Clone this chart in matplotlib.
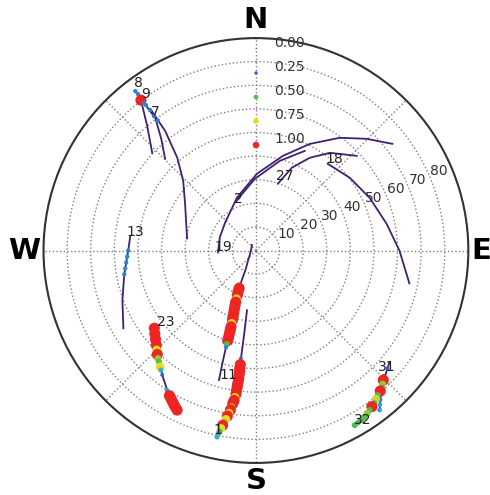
import matplotlib
matplotlib.use('Agg')
import matplotlib.pyplot as plt
import numpy as np
from matplotlib.colors import LinearSegmentedColormap

# satellite tracks: azimuth (deg, from north, clockwise) and zenith distance
prn08_az = [322.9, 322.6, 318.9, 313.3]
prn08_r = [84.7, 80.2, 70.1, 60.4]
prn09_az = [322.8, 322.8, 319.7, 315.3]
prn09_r = [81.7, 70.5, 62.0, 54.7]
prn07_az = [323.3, 322.8, 319.7, 313.8, 303.5, 293.5, 279.9]
prn07_r = [74.9, 63.6, 51.5, 42.7, 36.0, 32.3, 29.6]
prn13_az = [276.3, 270.0, 260.1, 249.5, 239.6]
prn13_r = [53.6, 54.1, 56.6, 60.4, 65.1]
prn23_az = [232.6, 225.9, 220.9, 216.0, 211.6, 209.1, 206.3]
prn23_r = [54.2, 58.9, 62.6, 66.8, 70.9, 73.0, 75.4]
prn11_az = [195.9, 196.5, 197.2, 197.6, 199.3, 204.6, 209.1, 217.3, 239.7, 275.7, 324.0]
prn11_r = [57.1, 50.7, 42.9, 37.7, 26.9, 16.3, 8.7, 5.6, 2.9, 2.1, 2.9]
prn01_az = [191.8, 190.4, 189.1, 187.9, 187.7, 187.9, 188.0, 188.5]
prn01_r = [80.7, 75.2, 69.3, 61.8, 53.3, 46.1, 36.3, 25.6]
prn19_az = [-93.0, -69.4, -47.9, -19.7, 0.7, 15.9, 26.8, 36.6, 44.7, 52.0]
prn19_r = [16.1, 16.3, 17.6, 23.8, 32.5, 41.7, 50.6, 59.5, 66.6, 73.4]
prn02_az = [-19.1, -0.8, 14.9, 26.1]
prn02_r = [23.2, 30.4, 39.3, 47.0]
prn27_az = [18.2, 23.4, 30.1, 37.1, 46.8]
prn27_r = [29.8, 38.2, 45.4, 51.9, 58.6]
prn18_az = [39.6, 52.2, 65.1, 78.4, 90.0, 102.1]
prn18_r = [47.7, 50.3, 53.1, 56.5, 60.8, 66.5]
prn31_az = [129.8, 131.8, 135.4, 139.2, 142.2]
prn31_r = [73.7, 74.8, 77.1, 80.9, 85.5]
prn32_az = [150.5, 148.1, 144.5, 139.9, 134.5]
prn32_r = [85.0, 84.6, 83.0, 80.1, 75.9]

# observations with a quality value (colour + size)
obs08_az = [322.9, 323.0, 322.9, 323.0]
obs08_r = [84.7, 83.0, 77.3, 74.5]
obs08_v = [0.3, 0.3, 0.3, 0.3]
obs09_az = [322.6, 322.8]
obs09_r = [80.2, 78.5]
obs09_v = [1.0, 0.3]
obs07_az = [322.8, 323.0]
obs07_r = [71.5, 69.0]
obs07_v = [0.3, 0.3]
obs13_az = [270.0, 267.3, 264.7, 262.2, 259.7]
obs13_r = [54.1, 54.6, 55.2, 55.9, 56.7]
obs13_v = [0.3, 0.32, 0.3, 0.32, 0.3]
obs23_az = [232.6, 230.5, 228.5, 226.5, 225.0, 223.5, 222.2, 221.0, 219.5, 218.5, 217.0,
            212.5, 211.6, 210.8, 210.0, 209.1, 208.2, 207.3, 206.3]
obs23_r = [54.2, 55.5, 56.8, 58.2, 59.5, 60.7, 61.8, 62.6, 63.8, 64.7, 66.0,
           70.2, 70.9, 71.6, 72.2, 73.0, 73.8, 74.6, 75.4]
obs23_v = [1.0, 1.0, 1.0, 1.0, 0.75, 1.0, 0.6, 0.5, 0.75, 0.4, 0.25,
           0.35, 0.5, 1.0, 1.0, 1.0, 1.0, 1.0, 1.0]
obs11_az = [204.6, 204.0, 203.3, 202.6, 202.0, 201.4, 200.8, 200.2, 199.6, 199.1,
            198.7, 198.4, 198.1, 197.9, 197.7, 197.5, 197.4, 197.3, 197.2]
obs11_r = [16.3, 17.5, 19.0, 20.5, 22.0, 23.5, 25.0, 26.5, 28.0, 29.5,
           31.0, 32.5, 34.0, 35.5, 37.0, 38.5, 40.0, 41.5, 42.9]
obs11_v = [0.5, 1.0, 1.0, 1.0, 0.75, 1.0, 1.0, 1.0, 1.0, 1.0,
           1.0, 0.75, 1.0, 1.0, 1.0, 1.0, 1.0, 0.5, 0.3]
obs01_az = [187.9, 187.9, 187.8, 187.8, 187.7, 187.7, 187.7, 187.7, 187.8, 187.8, 187.9, 187.9, 188.1,
            188.3, 188.6, 188.8, 189.1, 189.4, 189.8, 190.1, 190.4, 190.8, 191.1, 191.4, 191.6, 191.8]
obs01_r = [46.1, 47.5, 48.8, 50.2, 51.6, 53.0, 54.4, 55.8, 57.2, 58.6, 60.0, 61.4, 62.8,
           64.2, 65.6, 67.0, 68.4, 69.8, 71.2, 72.6, 74.0, 75.4, 76.8, 78.2, 79.5, 80.7]
obs01_v = [0.25, 0.3, 1.0, 1.0, 1.0, 1.0, 1.0, 1.0, 1.0, 1.0, 1.0, 1.0, 0.75,
           1.0, 1.0, 0.6, 1.0, 0.75, 1.0, 0.75, 0.6, 1.0, 0.75, 0.5, 0.4, 0.4]
obs31_az = [131.8, 135.4, 136.5, 137.5, 138.5, 139.2, 140.2, 141.2, 142.2]
obs31_r = [74.8, 77.1, 78.0, 79.0, 80.0, 80.9, 82.3, 83.8, 85.5]
obs31_v = [0.25, 0.25, 0.3, 0.35, 0.3, 0.35, 0.3, 0.35, 0.35]
obs32_az = [134.5, 135.5, 136.5, 137.5, 138.5, 139.9, 141.0, 142.2, 143.4, 144.5, 145.7, 147.0, 148.1, 149.3, 150.5]
obs32_r = [75.9, 77.0, 78.0, 78.8, 79.5, 80.1, 80.9, 81.7, 82.4, 83.0, 83.6, 84.2, 84.6, 84.8, 85.0]
obs32_v = [0.25, 1.0, 0.6, 0.5, 1.0, 0.5, 0.7, 0.5, 1.0, 0.5, 0.6, 0.5, 0.5, 0.45, 0.5]

prn_names = ['8', '9', '7', '13', '23', '11', '1', '19', '2', '27', '18', '31', '32']
track_az = [prn08_az, prn09_az, prn07_az, prn13_az, prn23_az, prn11_az, prn01_az,
            prn19_az, prn02_az, prn27_az, prn18_az, prn31_az, prn32_az]
track_r = [prn08_r, prn09_r, prn07_r, prn13_r, prn23_r, prn11_r, prn01_r,
           prn19_r, prn02_r, prn27_r, prn18_r, prn31_r, prn32_r]
# label offset from the first track point, in pixels (right, up)
label_off = [(3, 8), (6, 3), (5, -3), (5, 5), (11, 6), (9, 5), (1, 7),
             (5, 6), (0, 0), (7, 8), (7, 5), (-3, -5), (8, 5)]

obs_az = obs08_az + obs09_az + obs07_az + obs13_az + obs23_az + obs11_az + obs01_az + obs31_az + obs32_az
obs_r = obs08_r + obs09_r + obs07_r + obs13_r + obs23_r + obs11_r + obs01_r + obs31_r + obs32_r
obs_v = obs08_v + obs09_v + obs07_v + obs13_v + obs23_v + obs11_v + obs01_v + obs31_v + obs32_v

legend_levels = [0.0, 0.25, 0.5, 0.75, 1.0]

grid_az = [0, 45, 90, 135, 180, 225, 270, 315]
compass_lbl = ['N', 'E', 'S', 'W']
compass_az = [0, 90, 180, 270]
compass_r = [97.6, 95.6, 97.6, 98.0]

cmap = LinearSegmentedColormap.from_list(
    'q', [(0.0, '#3d1c6c'), (0.25, '#2f62d2'), (0.375, '#2fb0d6'),
          (0.5, '#55bb4a'), (0.75, '#e6df1e'), (1.0, '#ee2523')])
line_col = '#42206f'

fig = plt.figure(figsize=(4.9, 4.95), dpi=100)
ax = fig.add_axes([0.0888, 0.0646, 0.867, 0.8586], projection='polar')
ax.set_theta_zero_location('N')
ax.set_theta_direction(-1)
ax.set_rlim(0, 90)
ax.set_rgrids(range(10, 91, 10), labels=[str(v) for v in range(10, 90, 10)] + [''],
              angle=67.5, fontsize=10, color='#333333')
ax.set_thetagrids(grid_az, [''] * len(grid_az))
ax.grid(True, linestyle=':', color='#808080', linewidth=1.0)
ax.spines['polar'].set_color('#333333')
ax.spines['polar'].set_linewidth(1.5)

for lbl, az, r in zip(compass_lbl, compass_az, compass_r):
    ax.text(np.radians(az), r, lbl, fontsize=21, fontweight='heavy', ha='center', va='center',
            clip_on=False)

for name, az, r, off in zip(prn_names, track_az, track_r, label_off):
    ax.plot(np.radians(az), r, color=line_col, lw=1.3, zorder=2)
    ax.annotate(name, (np.radians(az[0]), r[0]), xytext=(off[0] * 0.72, off[1] * 0.72),
                textcoords='offset points', ha='center', va='center',
                fontsize=10, color='#222222', zorder=5)

v = np.array(obs_v)
ax.scatter(np.radians(obs_az), obs_r, c=v, s=60 * v ** 2 + 4, cmap=cmap, vmin=0, vmax=1,
           edgecolors='none', zorder=3)

# value legend along the north axis
lv = np.array(legend_levels)
ly = 1 - (49 + 24 * np.arange(len(lv))) / 495
ax.scatter(np.full(len(lv), 256 / 490), ly, c=lv, s=22 * lv + 0.5, cmap=cmap, vmin=0, vmax=1,
           edgecolors='none', transform=fig.transFigure, clip_on=False, zorder=4)
for i, lev in enumerate(lv):
    fig.text(274 / 490, ly[i] + 6 / 495, '%.2f' % lev, fontsize=10, color='#333333',
             ha='left', va='center')

fig.savefig('out.png', dpi=100)
